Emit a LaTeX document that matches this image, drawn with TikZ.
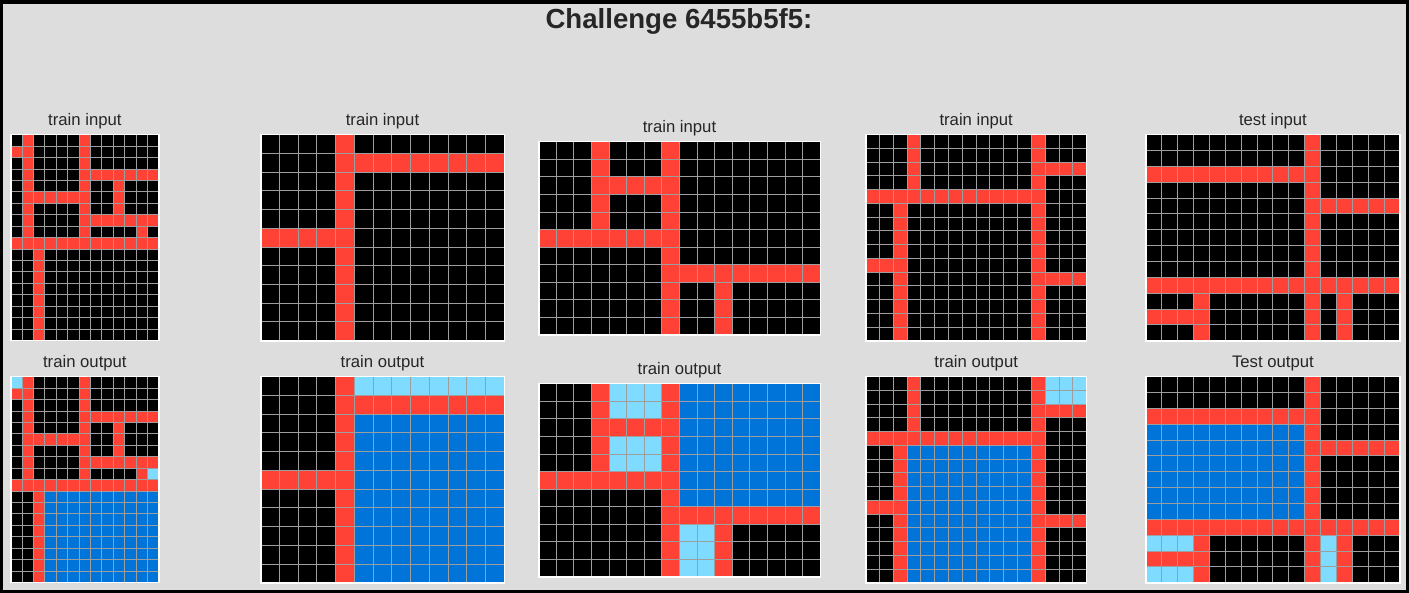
\documentclass[tikz,border=0pt]{standalone}
\usepackage{fontspec}
\setmainfont{Liberation Sans}
\usepackage{tikz}
\usetikzlibrary{positioning, backgrounds}
\definecolor{arcred}{HTML}{FF4136}
\definecolor{arcblue}{HTML}{0074D9}
\definecolor{arclight}{HTML}{7FDBFF}
\definecolor{figbg}{HTML}{DDDDDD}
\definecolor{inkgray}{HTML}{262626}
\tikzstyle{redcell} = [fill=arcred]
\tikzstyle{bluecell} = [fill=arcblue]
\tikzstyle{lightcell} = [fill=arclight]
\tikzstyle{gridline} = [draw=black!38, line width=1pt]
\tikzstyle{gridborder} = [draw=white, line width=1.6pt]
\tikzstyle{paneltitle} = [anchor=base, inner sep=0pt, text=inkgray, font=\fontsize{16.7}{18}\selectfont]
\tikzstyle{figtitle} = [anchor=base, inner sep=0pt, text=inkgray, font=\fontsize{27.6}{30}\selectfont\bfseries]

% black cells, grid lines and white frame of one panel
\newcommand{\panelcells}[2]{%
  \fill[black] (0,0) rectangle (#1,#2);}
\newcommand{\panellines}[2]{%
  \foreach \i in {1,...,#1} \draw[gridline] (\i,0) -- (\i,#2);
  \foreach \j in {1,...,#2} \draw[gridline] (0,\j) -- (#1,\j);
  \draw[gridborder] (0,0) rectangle (#1,#2);}

% red lines of each task
\newcommand{\redsA}{%
  \fill[redcell] (1,0) rectangle (2,10) (0,1) rectangle (1,2)
    (6,0) rectangle (7,10) (7,3) rectangle (13,4) (9,4) rectangle (10,7)
    (2,5) rectangle (6,6) (7,7) rectangle (13,8) (11,8) rectangle (12,9)
    (0,9) rectangle (13,10) (2,10) rectangle (3,18);}
\newcommand{\redsB}{%
  \fill[redcell] (4,0) rectangle (5,11) (5,1) rectangle (13,2) (0,5) rectangle (4,6);}
\newcommand{\redsC}{%
  \fill[redcell] (3,0) rectangle (4,5) (4,2) rectangle (7,3) (7,0) rectangle (8,11)
    (0,5) rectangle (7,6) (8,7) rectangle (16,8) (10,8) rectangle (11,11);}
\newcommand{\redsD}{%
  \fill[redcell] (3,0) rectangle (4,4) (12,0) rectangle (13,15) (13,2) rectangle (16,3)
    (0,4) rectangle (12,5) (2,5) rectangle (3,15) (0,9) rectangle (2,10)
    (13,10) rectangle (16,11);}
\newcommand{\redsE}{%
  \fill[redcell] (10,0) rectangle (11,13) (0,2) rectangle (10,3) (11,4) rectangle (16,5)
    (0,9) rectangle (16,10) (3,10) rectangle (4,13) (0,11) rectangle (3,12)
    (12,10) rectangle (13,13);}

\begin{document}
\begin{tikzpicture}[x=1pt, y=-1pt]
  \useasboundingbox (0,0) rectangle (1409,593);
  \fill[black] (0,0) rectangle (1409,593);
  \fill[figbg] (3,4) rectangle (1406,590);

  \node[figtitle] (challenge) at (679,29) {Challenge 6455b5f5:};

  % task 1
  \begin{scope}[shift={(10.7,134.7)}, x=11.41pt, y=-11.44pt]
    \panelcells{13}{18} \redsA \panellines{13}{18}
    \coordinate (top1in) at (6.5,0);
  \end{scope}
  \begin{scope}[shift={(10.7,376.7)}, x=11.41pt, y=-11.44pt]
    \panelcells{13}{18} \redsA
    \fill[lightcell] (0,0) rectangle (1,1) (12,8) rectangle (13,9);
    \fill[bluecell] (3,10) rectangle (13,18);
    \panellines{13}{18}
    \coordinate (top1out) at (6.5,0);
  \end{scope}

  % task 2
  \begin{scope}[shift={(260.7,134.7)}, x=18.74pt, y=-18.73pt]
    \panelcells{13}{11} \redsB \panellines{13}{11}
    \coordinate (top2in) at (6.5,0);
  \end{scope}
  \begin{scope}[shift={(260.7,376.7)}, x=18.74pt, y=-18.73pt]
    \panelcells{13}{11} \redsB
    \fill[lightcell] (5,0) rectangle (13,1);
    \fill[bluecell] (5,2) rectangle (13,11);
    \panellines{13}{11}
    \coordinate (top2out) at (6.5,0);
  \end{scope}

  % task 3
  \begin{scope}[shift={(538.7,141.7)}, x=17.6pt, y=-17.58pt]
    \panelcells{16}{11} \redsC \panellines{16}{11}
    \coordinate (top3in) at (8,0);
  \end{scope}
  \begin{scope}[shift={(538.7,383.7)}, x=17.6pt, y=-17.58pt]
    \panelcells{16}{11} \redsC
    \fill[lightcell] (4,0) rectangle (7,2) (4,3) rectangle (7,5) (8,8) rectangle (10,11);
    \fill[bluecell] (8,0) rectangle (16,7);
    \panellines{16}{11}
    \coordinate (top3out) at (8,0);
  \end{scope}

  % task 4
  \begin{scope}[shift={(865.7,134.7)}, x=13.81pt, y=-13.75pt]
    \panelcells{16}{15} \redsD \panellines{16}{15}
    \coordinate (top4in) at (8,0);
  \end{scope}
  \begin{scope}[shift={(865.7,376.7)}, x=13.81pt, y=-13.75pt]
    \panelcells{16}{15} \redsD
    \fill[lightcell] (13,0) rectangle (16,2);
    \fill[bluecell] (3,5) rectangle (12,15);
    \panellines{16}{15}
    \coordinate (top4out) at (8,0);
  \end{scope}

  % test
  \begin{scope}[shift={(1145.7,134.7)}, x=15.9pt, y=-15.85pt]
    \panelcells{16}{13} \redsE \panellines{16}{13}
    \coordinate (top5in) at (8,0);
  \end{scope}
  \begin{scope}[shift={(1145.7,376.7)}, x=15.9pt, y=-15.85pt]
    \panelcells{16}{13} \redsE
    \fill[bluecell] (0,3) rectangle (10,9);
    \fill[lightcell] (0,10) rectangle (3,11) (0,12) rectangle (3,13) (11,10) rectangle (12,13);
    \panellines{16}{13}
    \coordinate (top5out) at (8,0);
  \end{scope}

  % panel titles
  \node[paneltitle] (title1in) at ([yshift=9pt]top1in) {train input};
  \node[paneltitle] (title1out) at ([yshift=9pt]top1out) {train output};
  \node[paneltitle] (title2in) at ([yshift=9pt]top2in) {train input};
  \node[paneltitle] (title2out) at ([yshift=9pt]top2out) {train output};
  \node[paneltitle] (title3in) at ([yshift=9pt]top3in) {train input};
  \node[paneltitle] (title3out) at ([yshift=9pt]top3out) {train output};
  \node[paneltitle] (title4in) at ([yshift=9pt]top4in) {train input};
  \node[paneltitle] (title4out) at ([yshift=9pt]top4out) {train output};
  \node[paneltitle] (title5in) at ([yshift=9pt]top5in) {test input};
  \node[paneltitle] (title5out) at ([yshift=9pt]top5out) {Test output};
\end{tikzpicture}
\end{document}
